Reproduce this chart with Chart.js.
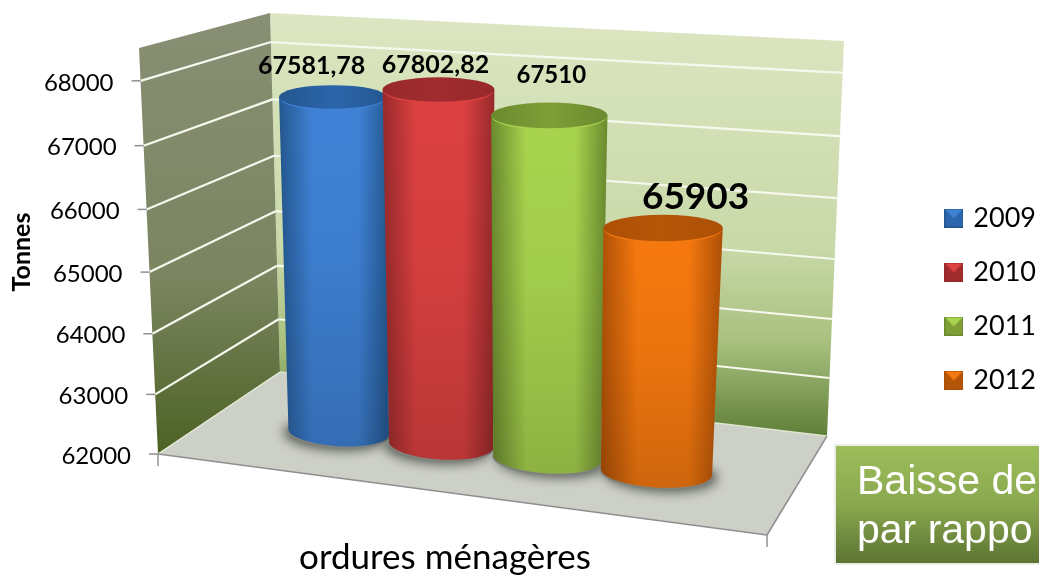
<!DOCTYPE html>
<html>
<head>
<meta charset="utf-8">
<title>ordures ménagères</title>
<script src="https://cdn.jsdelivr.net/npm/chart.js@4/dist/chart.umd.min.js"></script>
<style>
html, body { margin: 0; padding: 0; background: #fff; overflow: hidden; }
#wrap { position: relative; width: 1039px; height: 576px; }
</style>
</head>
<body>
<div id="wrap"><canvas id="myCanvas"></canvas></div>
<script>
"use strict";
// data
var categories = ['ordures ménagères'];
var years = ['2009', '2010', '2011', '2012'];
var tonnes = [67581.78, 67802.82, 67510, 65903];
var valueLabels = ['67581,78', '67802,82', '67510', '65903'];
var tickValues = [62000, 63000, 64000, 65000, 66000, 67000, 68000];
var axisTitle = 'Tonnes';
var boxLines = ['Baisse de', 'par rappo'];

// look of the bars
var midColors = ['#3f82d6', '#dd4141', '#a8d44e', '#f6790f'];
var edgeColors = ['#24578f', '#98292b', '#6a8a2e', '#ad5006'];
var capColors = ['#2b65ab', '#a02c2e', '#7f9e38', '#b55507'];
var labelFonts = [25, 25, 24, 37];
var labelShift = [[-21, -31], [-3, -25], [2, -40], [32.5, -31]];

// wall frame of the 3D box, (front left, front right, back right, back left)
var floorQuad = [[158, 454], [767, 535], [827, 436], [280, 372]];
var topQuad = [[139, 48], [783, 85], [844, 41], [270, 13]];
var barDepth = 0.43, uShift = 0.0044, persp = 0.056, topLean = 3, topWiden = 1.03;

function makeHomography(q) {
	var dx1 = q[1][0] - q[2][0], dx2 = q[3][0] - q[2][0], sx = q[0][0] - q[1][0] + q[2][0] - q[3][0];
	var dy1 = q[1][1] - q[2][1], dy2 = q[3][1] - q[2][1], sy = q[0][1] - q[1][1] + q[2][1] - q[3][1];
	var den = dx1 * dy2 - dx2 * dy1;
	var g = (sx * dy2 - dx2 * sy) / den, h = (dx1 * sy - sx * dy1) / den;
	var a = q[1][0] - q[0][0] + g * q[1][0], b = q[3][0] - q[0][0] + h * q[3][0];
	var d = q[1][1] - q[0][1] + g * q[1][1], e = q[3][1] - q[0][1] + h * q[3][1];
	return function (u, w) {
		var n = g * u + h * w + 1;
		return [(a * u + b * w + q[0][0]) / n, (d * u + e * w + q[0][1]) / n];
	};
}
var floorMap = makeHomography(floorQuad), topMap = makeHomography(topQuad);

// u along the floor, w into the depth, v up the value axis (all 0..1)
function project(u, w, v) {
	var t = v / (1 + persp * (1 - v));
	var p0 = floorMap(u, w), p1 = topMap(u, w);
	return [p0[0] + (p1[0] - p0[0]) * t, p0[1] + (p1[1] - p0[1]) * t];
}

function makeSwatch(i) {
	var c = document.createElement('canvas');
	c.width = 19; c.height = 19;
	var g = c.getContext('2d');
	g.fillStyle = edgeColors[i];
	g.fillRect(0, 0, 19, 19);
	g.fillStyle = capColors[i];
	g.fillRect(1, 1, 17, 17);
	g.fillStyle = midColors[i];
	g.beginPath();
	g.moveTo(1, 1); g.lineTo(18, 1); g.lineTo(9.5, 10); g.closePath();
	g.fill();
	return c;
}

function poly(ctx, pts) {
	ctx.beginPath();
	pts.forEach(function (p, i) { if (i) ctx.lineTo(p[0], p[1]); else ctx.moveTo(p[0], p[1]); });
	ctx.closePath();
}

function line(ctx, a, b, color, width) {
	ctx.strokeStyle = color;
	ctx.lineWidth = width;
	ctx.beginPath();
	ctx.moveTo(a[0], a[1]);
	ctx.lineTo(b[0], b[1]);
	ctx.stroke();
}

function vOf(chart, pixel) {
	var area = chart.chartArea;
	return (area.bottom - pixel) / (area.bottom - area.top);
}

var box3d = {
	id: 'box3d',
	beforeDatasetsDraw: function (chart) {
		var ctx = chart.ctx, yScale = chart.scales.y;
		ctx.save();

		// walls
		var grad = ctx.createLinearGradient(0, 13, 0, 436);
		grad.addColorStop(0, '#dce6c2');
		grad.addColorStop(0.55, '#c9d9a8');
		grad.addColorStop(0.78, '#a8c07e');
		grad.addColorStop(1, '#5f7f38');
		poly(ctx, [floorQuad[3], floorQuad[2], topQuad[2], topQuad[3]]);
		ctx.fillStyle = grad;
		ctx.fill();

		grad = ctx.createLinearGradient(0, 13, 0, 454);
		grad.addColorStop(0, '#888f74');
		grad.addColorStop(0.6, '#7b8560');
		grad.addColorStop(1, '#4c6224');
		poly(ctx, [floorQuad[0], floorQuad[3], topQuad[3], topQuad[0]]);
		ctx.fillStyle = grad;
		ctx.fill();

		// floor
		poly(ctx, floorQuad);
		ctx.fillStyle = '#cdd0c7';
		ctx.fill();
		line(ctx, floorQuad[0], floorQuad[3], '#e6ead8', 1.5);
		line(ctx, floorQuad[3], floorQuad[2], '#dfe5cf', 1.5);
		line(ctx, floorQuad[0], floorQuad[1], '#8f8f8f', 1.5);
		line(ctx, floorQuad[1], floorQuad[2], '#8f8f8f', 1.5);
		line(ctx, floorQuad[0], [158, 466], '#8f8f8f', 1.5);
		line(ctx, floorQuad[1], [767, 547], '#8f8f8f', 1.5);

		// grid, tick marks and tick labels come from the y scale
		ctx.font = '24px Lato';
		ctx.textAlign = 'right';
		ctx.textBaseline = 'middle';
		yScale.ticks.forEach(function (tick) {
			var v = vOf(chart, yScale.getPixelForValue(tick.value));
			var front = project(0, 0, v), backL = project(0, 1, v), backR = project(1, 1, v);
			if (v > 0) {
				line(ctx, front, backL, '#f6f8ee', 2.2);
				line(ctx, backL, backR, '#f6f8ee', 2.2);
			}
			line(ctx, [front[0] - 9, front[1]], front, '#8f8f8f', 1.5);
			ctx.fillStyle = '#000';
			ctx.fillText(String(tick.value), front[0] - 27, front[1] + 2);
		});

		// cylinders, from the bar elements of the chart
		var shapes = [];
		chart.data.datasets.forEach(function (ds, i) {
			var bar = chart.getDatasetMeta(i).data[0];
			var area = chart.chartArea, w = area.right - area.left;
			var u = (bar.x - area.left) / w + uShift, r = bar.width / 2 / w;
			var v = vOf(chart, bar.y);
			var b0 = project(u, barDepth, 0), bl = project(u - r, barDepth, 0), br = project(u + r, barDepth, 0);
			var t0 = project(u, barDepth, v), tl = project(u - r, barDepth, v), tr = project(u + r, barDepth, v);
			t0[0] += topLean;
			shapes.push({ i: i, b0: b0, ba: (br[0] - bl[0]) / 2, t0: t0, ta: (tr[0] - tl[0]) / 2 * topWiden });
		});

		shapes.forEach(function (s) {
			ctx.save();
			ctx.shadowColor = 'rgba(40,45,40,0.75)';
			ctx.shadowBlur = 12;
			ctx.shadowOffsetX = s.i < 2 ? -4 : 4;
			ctx.shadowOffsetY = 2;
			ctx.fillStyle = '#7f837c';
			ctx.beginPath();
			ctx.ellipse(s.b0[0], s.b0[1] + 1, s.ba + 1, s.ba * 0.28 + 1, 0.06, 0, Math.PI * 2);
			ctx.fill();
			ctx.restore();
		});

		shapes.forEach(function (s) {
			var i = s.i, tilt = 0.06;
			var capB = s.ta * 0.22, baseB = s.ba * 0.28;
			var left = Math.min(s.b0[0] - s.ba, s.t0[0] - s.ta), right = Math.max(s.b0[0] + s.ba, s.t0[0] + s.ta);

			ctx.beginPath();
			ctx.moveTo(s.t0[0] - s.ta, s.t0[1]);
			ctx.lineTo(s.b0[0] - s.ba * Math.cos(tilt), s.b0[1] - s.ba * Math.sin(tilt));
			ctx.ellipse(s.b0[0], s.b0[1], s.ba, baseB, tilt, Math.PI, 0, true);
			ctx.lineTo(s.t0[0] + s.ta, s.t0[1]);
			ctx.closePath();
			var g = ctx.createLinearGradient(left, 0, right, 0);
			g.addColorStop(0, edgeColors[i]);
			g.addColorStop(0.3, midColors[i]);
			g.addColorStop(0.5, midColors[i]);
			g.addColorStop(0.72, midColors[i]);
			g.addColorStop(1, edgeColors[i]);
			ctx.fillStyle = g;
			ctx.fill();
			// darker towards the floor
			g = ctx.createLinearGradient(0, s.t0[1], 0, s.b0[1] + baseB);
			g.addColorStop(0, 'rgba(0,0,0,0)');
			g.addColorStop(0.45, 'rgba(0,0,0,0.04)');
			g.addColorStop(1, 'rgba(0,0,0,0.16)');
			ctx.fillStyle = g;
			ctx.fill();

			// lit rim then cap
			ctx.fillStyle = midColors[i];
			ctx.beginPath();
			ctx.ellipse(s.t0[0], s.t0[1] + 1.5, s.ta - 1, capB, 0, 0, Math.PI * 2);
			ctx.fill();
			g = ctx.createLinearGradient(left, 0, right, 0);
			g.addColorStop(0, edgeColors[i]);
			g.addColorStop(0.5, capColors[i]);
			g.addColorStop(1, edgeColors[i]);
			ctx.fillStyle = g;
			ctx.beginPath();
			ctx.ellipse(s.t0[0], s.t0[1], s.ta, capB, 0, 0, Math.PI * 2);
			ctx.fill();
		});

		// value labels
		ctx.fillStyle = '#000';
		ctx.textAlign = 'center';
		ctx.textBaseline = 'middle';
		shapes.forEach(function (s) {
			ctx.font = 'bold ' + labelFonts[s.i] + 'px Lato';
			ctx.fillText(valueLabels[s.i], s.t0[0] + labelShift[s.i][0], s.t0[1] + labelShift[s.i][1]);
		});

		// axis titles
		ctx.font = '35px Lato';
		ctx.fillText(categories[0], 445, 558);
		ctx.save();
		ctx.translate(22, 252);
		ctx.rotate(-Math.PI / 2);
		ctx.font = 'bold 25px Lato';
		ctx.fillText(axisTitle, 0, 0);
		ctx.restore();

		// green text box, runs off the right side
		var tb = ctx.createLinearGradient(0, 446, 0, 563);
		tb.addColorStop(0, '#9dbd5b');
		tb.addColorStop(0.5, '#8aa84e');
		tb.addColorStop(1, '#5c7433');
		ctx.fillStyle = '#eceee6';
		ctx.fillRect(834, 444, 205, 121);
		ctx.fillStyle = tb;
		ctx.fillRect(836, 446, 203, 117);
		ctx.fillStyle = '#fff';
		ctx.textAlign = 'left';
		ctx.textBaseline = 'alphabetic';
		ctx.font = '41px "Liberation Sans"';
		ctx.fillText(boxLines[0], 857, 494);
		ctx.fillText(boxLines[1], 857, 543);

		ctx.restore();
		return false;
	}
};

var datasets = years.map(function (year, i) {
	return { label: year, data: [tonnes[i]], backgroundColor: midColors[i], categoryPercentage: 0.73, barPercentage: 1 };
});

new Chart(document.getElementById('myCanvas'), {
	type: 'bar',
	data: { labels: categories, datasets: datasets },
	plugins: [box3d],
	options: {
		responsive: true,
		maintainAspectRatio: false,
		animation: false,
		layout: { padding: { top: 22, right: -7 } },
		scales: {
			x: { display: false },
			y: {
				display: false,
				min: 62000,
				max: 68500,
				afterBuildTicks: function (scale) {
					scale.ticks = tickValues.map(function (value) { return { value: value }; });
				}
			}
		},
		plugins: {
			tooltip: { enabled: false },
			legend: {
				position: 'right',
				labels: {
					color: '#000',
					font: { family: 'Lato', size: 27 },
					usePointStyle: true,
					pointStyleWidth: 12,
					padding: 27,
					generateLabels: function (chart) {
						return chart.data.datasets.map(function (ds, i) {
							return { text: ds.label, fillStyle: midColors[i], strokeStyle: edgeColors[i], lineWidth: 0, pointStyle: makeSwatch(i), datasetIndex: i, hidden: false };
						});
					}
				}
			}
		}
	}
});
</script>
</body>
</html>
